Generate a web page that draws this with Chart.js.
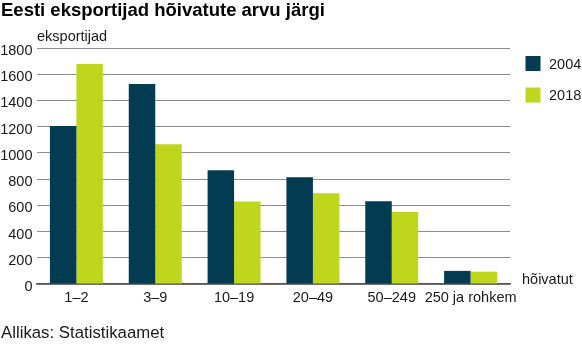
<!DOCTYPE html>
<html>
<head>
<meta charset="utf-8">
<script src="https://cdn.jsdelivr.net/npm/chart.js@4"></script>
<style>
  body { margin: 0; background: #fff; }
  #wrap { position: relative; width: 582px; height: 345px; font-family: "Liberation Sans", Arial, sans-serif; color: #1a1a1a; }
  #wrap canvas { position: absolute; left: 0; top: 0; }
  .txt { position: absolute; white-space: nowrap; font-size: 14.5px; line-height: 14.5px; }
  #title { left: 1px; top: 1px; font-size: 18.5px; line-height: 18.5px; font-weight: bold; color: #000; }
  #source { left: 1px; top: 325px; font-size: 16.8px; line-height: 16.8px; }
</style>
</head>
<body>
<div id="wrap">
  <canvas id="myChart" width="582" height="345"></canvas>
  <div id="title" class="txt">Eesti eksportijad hõivatute arvu järgi</div>
  <div class="txt" style="left:37px; top:29px;">eksportijad</div>
  <div class="txt" style="left:522px; top:272px;">hõivatut</div>
  <div id="source" class="txt">Allikas: Statistikaamet</div>
</div>
<script>
// Categories (number of employees) and values per year
const categories = ['1–2', '3–9', '10–19', '20–49', '50–249', '250 ja rohkem'];
const values2004 = [1205, 1525, 868, 815, 632, 100];
const values2018 = [1678, 1065, 630, 692, 550, 94];
const seriesNames = ['2004', '2018'];
const yTicks = [0, 200, 400, 600, 800, 1000, 1200, 1400, 1600, 1800];

const colors = ['#033b53', '#bed71d'];
const tickFont = { family: '"Liberation Sans", Arial, sans-serif', size: 14.5 };

// Legend drawn by hand to the right of the plot
const sideLegend = {
  id: 'sideLegend',
  afterDraw(chart) {
    const ctx = chart.ctx;
    ctx.save();
    chart.data.datasets.forEach((ds, i) => {
      const y = 56 + i * 31.5;
      ctx.fillStyle = ds.backgroundColor;
      ctx.fillRect(525.5, y, 15, 15);
      ctx.fillStyle = '#1a1a1a';
      ctx.font = '14.5px "Liberation Sans", Arial, sans-serif';
      ctx.textBaseline = 'alphabetic';
      ctx.fillText(ds.label, 549, y + 12.5);
    });
    ctx.restore();
  }
};

const barChart = new Chart(document.getElementById('myChart'), {
  type: 'bar',
  data: {
    labels: categories,
    datasets: [
      { label: seriesNames[0], data: values2004, backgroundColor: colors[0] },
      { label: seriesNames[1], data: values2018, backgroundColor: colors[1] }
    ]
  },
  options: {
    responsive: false,
    animation: false,
    layout: { padding: { left: 0, right: 72, top: 48, bottom: 0 } },
    datasets: { bar: { categoryPercentage: 0.672, barPercentage: 1.0, borderWidth: 0 } },
    plugins: { legend: { display: false }, tooltip: { enabled: false } },
    scales: {
      x: {
        grid: { display: false, drawTicks: false },
        border: { color: '#555', width: 1.5 },
        ticks: { font: tickFont, color: '#1a1a1a', padding: 5, maxRotation: 0, autoSkip: false },
        afterFit(scale) { scale.height = 61; }
      },
      y: {
        min: 0,
        max: 1800,
        afterBuildTicks(scale) { scale.ticks = yTicks.map(v => ({ value: v })); },
        grid: { color: '#8c8c8c', lineWidth: 1, drawTicks: false },
        border: { display: false },
        ticks: { font: tickFont, color: '#1a1a1a', padding: 4.5, labelOffset: 3, callback: v => String(v) },
        afterFit(scale) { scale.width = 37; }
      }
    }
  },
  plugins: [sideLegend]
});
</script>
</body>
</html>
